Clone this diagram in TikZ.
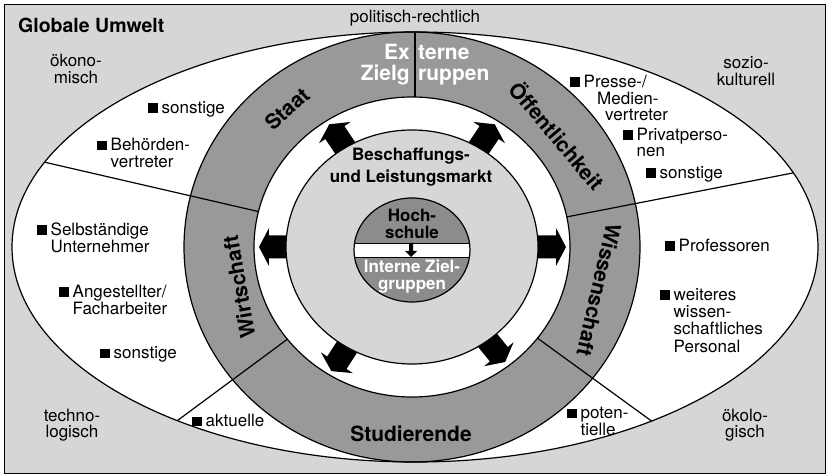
\documentclass[tikz,border=0pt]{standalone}
\usepackage{fontspec}
\setmainfont{TeX Gyre Heros}
\usepackage{tikz}

\definecolor{umwelt}{gray}{0.84}
\definecolor{ring}{gray}{0.6}
\definecolor{kern}{gray}{0.55}

\newcommand{\sq}{\rule[0.5pt]{9.5pt}{9.5pt}\hspace{4pt}}
\newcommand{\eintrag}[1]{\sq\begin{tabular}[t]{@{}l@{}}#1\end{tabular}}

\begin{document}
\begin{tikzpicture}[x=1pt,y=1pt,
    txt/.style={font=\fontsize{17}{16.5}\selectfont, inner sep=0pt, align=center},
    item/.style={font=\fontsize{17}{16.5}\selectfont, inner sep=0pt, anchor=base west},
    ringtxt/.style={font=\fontsize{21}{21}\selectfont\bfseries, inner sep=0pt},
    mitte/.style={font=\fontsize{17}{17}\selectfont\bfseries, inner sep=0pt, align=center},
    grenze/.style={line width=1.2pt}]

      \useasboundingbox (-412,-229) rectangle (417,247);
      \fill[white] (-412,-229) rectangle (417,247);
      \draw[fill=umwelt, line width=1pt] (-407,-226) rectangle (413,242);

      % globale Umwelt und Ring
      \fill[white] (3,0) ellipse [x radius=403, y radius=215];
      \fill[ring] (0,0) ellipse [x radius=228, y radius=215];
      \begin{scope}
        \clip (3,0) ellipse [x radius=403, y radius=215];
        \draw[grenze] (3,0) -- (3,230);
        \foreach \w in {11,167,216.5,-36}
          \draw[grenze] (0,0) -- (\w:450);
      \end{scope}
      \draw[grenze] (0,0) ellipse [x radius=228, y radius=215];
      \draw[grenze] (3,0) ellipse [x radius=403, y radius=215];

      % Beschaffungs- und Leistungsmarkt
      \draw[grenze, fill=white] (0,0) ellipse [x radius=158, y radius=150];
      \foreach \w/\l in {0/154,56/148,124/148,180/153,237/148,309/148}
        \fill[rotate=\w] (100,-11.5) -- (\l-10,-11.5) -- (\l-10,-19) -- (\l,0)
          -- (\l-10,19) -- (\l-10,11.5) -- (100,11.5) -- cycle;
      \draw[grenze, fill=umwelt] (0,0) ellipse [x radius=126, y radius=117];

      % Hochschule
      \begin{scope}
        \clip (0,-3) ellipse [x radius=58, y radius=52];
        \fill[kern] (0,-3) ellipse [x radius=58, y radius=52];
        \draw[line width=0.8pt, fill=white] (-60,-10) rectangle (60,4);
      \end{scope}
      \draw[grenze] (0,-3) ellipse [x radius=58, y radius=52];
      \fill (-3,4) -- (-3,-4) -- (-7,-4) -- (-1,-10) -- (5,-4) -- (1,-4) -- (1,4) -- cycle;

      \node[mitte] (hs) at (0,23.5) {Hoch-\\schule};
      \node[mitte, white] (izg) at (0,-30) {Interne Ziel-\\gruppen};
      \node[mitte, font=\fontsize{17}{22}\selectfont\bfseries] (markt) at (-1,80) {Beschaffungs-\\und Leistungsmarkt};

      % Ringtexte
      \node[ringtxt, white, anchor=base east] (ex) at (-2,187) {Ex};
      \node[ringtxt, white, anchor=base west] (terne) at (6,187) {terne};
      \node[ringtxt, white, anchor=base east] (zielg) at (-2,166.5) {Zielg};
      \node[ringtxt, white, anchor=base west] (ruppen) at (6,166.5) {ruppen};
      \node[ringtxt, rotate=42] (staat) at (-125,138) {Staat};
      \node[ringtxt, rotate=-50] (oeff) at (146,112) {Öffentlichkeit};
      \node[ringtxt, rotate=-103] (wiss) at (187,-43) {Wissenschaft};
      \node[ringtxt, rotate=100] (wirt) at (-173,-40) {Wirtschaft};
      \node[ringtxt] (stud) at (-1,-186.5) {Studierende};

      % Umwelt
      \node[font=\fontsize{19.5}{20}\selectfont\bfseries, inner sep=0pt, anchor=west] (glob) at (-394,222) {Globale Umwelt};
      \node[txt] (pol) at (3,229) {politisch-rechtlich};
      \node[txt] (oekon) at (-336,178) {ökono-\\misch};
      \node[txt] (sozio) at (334,176) {sozio-\\kulturell};
      \node[txt] (techn) at (-340,-178) {techno-\\logisch};
      \node[txt] (oekol) at (333,-178) {ökolo-\\gisch};

      % Zielgruppen
      \node[item] (staat1) at (-264,133.5) {\eintrag{sonstige}};
      \node[item] (staat2) at (-315,96) {\eintrag{Behörden-\\vertreter}};
      \node[item] (wirt1) at (-375,11.5) {\eintrag{Selbständige\\Unternehmer}};
      \node[item] (wirt2) at (-353,-50.5) {\eintrag{Angestellter/\\Facharbeiter}};
      \node[item] (wirt3) at (-312,-111.5) {\eintrag{sonstige}};
      \node[item] (stud1) at (-220,-179.5) {\eintrag{aktuelle}};
      \node[item] (stud2) at (155,-171.5) {\eintrag{poten-\\tielle}};
      \node[item] (oeff1) at (158,159.5) {\eintrag{Presse-/}};
      \node[item] (oeff1b) at (185,142.5) {Medien-};
      \node[item] (oeff1c) at (193,126.5) {vertreter};
      \node[item] (oeff2) at (211,106.5) {\eintrag{Privatperso-\\nen}};
      \node[item] (oeff3) at (234,68.5) {\eintrag{sonstige}};
      \node[item] (wiss1) at (253,-4.5) {\eintrag{Professoren}};
      \node[item] (wiss2) at (248,-53.5) {\eintrag{weiteres\\wissen-\\schaftliches\\Personal}};
    \end{tikzpicture}
\end{document}
